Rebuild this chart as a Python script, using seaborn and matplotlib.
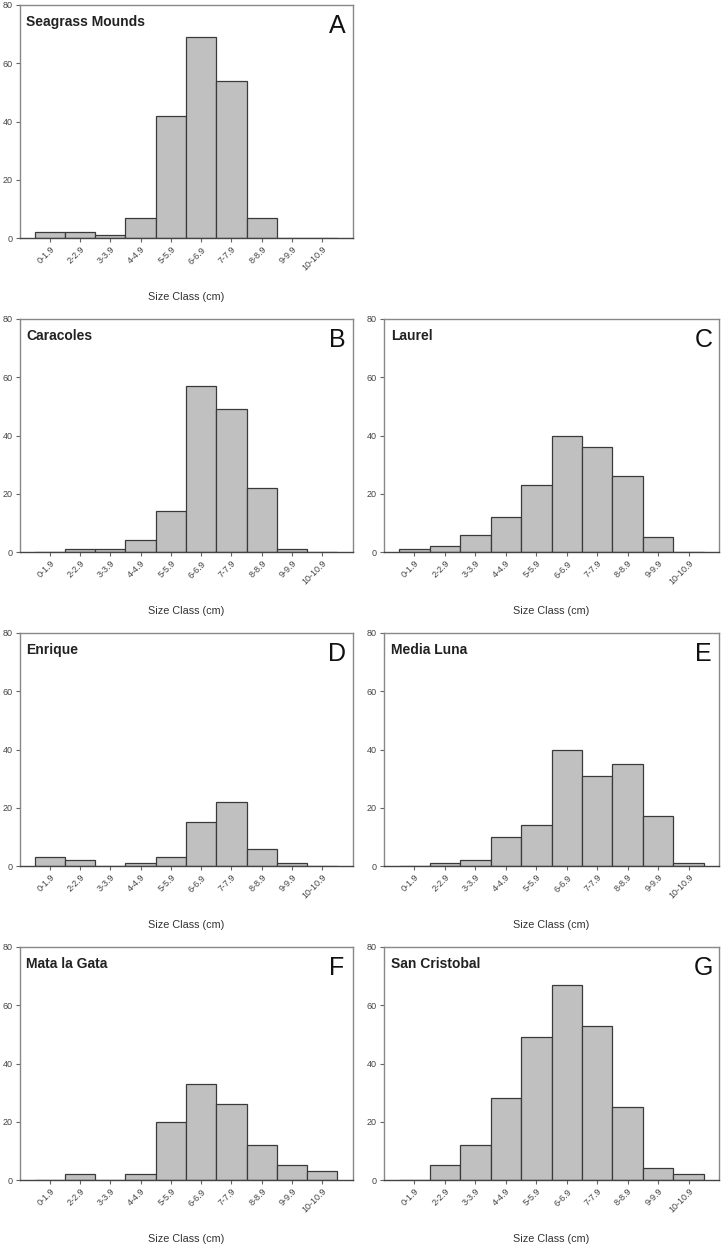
import matplotlib
matplotlib.use("Agg")
import matplotlib.pyplot as plt
import seaborn as sns
import pandas as pd

size_classes = ["0-1.9", "2-2.9", "3-3.9", "4-4.9", "5-5.9", "6-6.9",
                "7-7.9", "8-8.9", "9-9.9", "10-10.9"]

seagrass_mounds = [2, 2, 1, 7, 42, 69, 54, 7, 0, 0]
caracoles = [0, 1, 1, 4, 14, 57, 49, 22, 1, 0]
laurel = [1, 2, 6, 12, 23, 40, 36, 26, 5, 0]
enrique = [3, 2, 0, 1, 3, 15, 22, 6, 1, 0]
media_luna = [0, 1, 2, 10, 14, 40, 31, 35, 17, 1]
mata_la_gata = [0, 2, 0, 2, 20, 33, 26, 12, 5, 3]
san_cristobal = [0, 5, 12, 28, 49, 67, 53, 25, 4, 2]

site_names = ["Seagrass Mounds", "Caracoles", "Laurel", "Enrique",
              "Media Luna", "Mata la Gata", "San Cristobal"]
panel_letters = ["A", "B", "C", "D", "E", "F", "G"]
site_values = [seagrass_mounds, caracoles, laurel, enrique, media_luna,
               mata_la_gata, san_cristobal]
y_ticks = [0, 20, 40, 60, 80]
x_label = "Size Class (cm)"

sns.set_style("white")
plt.rcParams["font.family"] = ["Liberation Sans", "DejaVu Sans"]

W, H = 722, 1250
fig = plt.figure(figsize=(W / 100, H / 100), dpi=100)

col_l = [(19.5, 333.0), (384.0, 335.0)]
row_tops = [5, 319, 633, 947]
panel_pos = [(0, 0), (1, 0), (1, 1), (2, 0), (2, 1), (3, 0), (3, 1)]

for name, letter, vals, (r, c) in zip(site_names, panel_letters, site_values, panel_pos):
    left, width = col_l[c]
    top = row_tops[r]
    height = 233.0
    ax = fig.add_axes([left / W, 1 - (top + height) / H, width / W, height / H])
    df = pd.DataFrame({"size": size_classes, "count": vals})
    sns.barplot(data=df, x="size", y="count", order=size_classes, ax=ax,
                color="#c0c0c0", edgecolor="#3a3a3a", linewidth=0.9,
                width=1.0, saturation=1.0)
    ax.set_xlim(-1, 10)
    ax.set_ylim(0, 80)
    ax.set_yticks(y_ticks)
    ax.set_yticklabels([str(t) for t in y_ticks], fontsize=6.5, color="#444444")
    ax.set_xticks(range(len(size_classes)))
    ax.set_xticklabels(size_classes, fontsize=6.5, color="#444444",
                       rotation=45, ha="right", rotation_mode="anchor")
    ax.tick_params(axis="both", which="both", direction="out", length=3,
                   width=0.8, color="#666666", pad=2,
                   bottom=True, left=True, top=False, right=False)
    for side in ["top", "right", "left"]:
        ax.spines[side].set_color("#888888")
        ax.spines[side].set_linewidth(1.0)
    ax.spines["bottom"].set_color("#444444")
    ax.spines["bottom"].set_linewidth(1.0)
    ax.set_ylabel("")
    ax.set_xlabel(x_label, fontsize=7.8, color="#333333")
    ax.xaxis.set_label_coords(0.5, -0.232)
    ax.text(0.02, 0.927, name, transform=ax.transAxes, fontsize=10,
            fontweight="bold", color="#222222", ha="left", va="center")
    ax.text(0.953, 0.912, letter, transform=ax.transAxes, fontsize=18,
            color="#111111", ha="center", va="center")

fig.savefig("out.png", dpi=100)
